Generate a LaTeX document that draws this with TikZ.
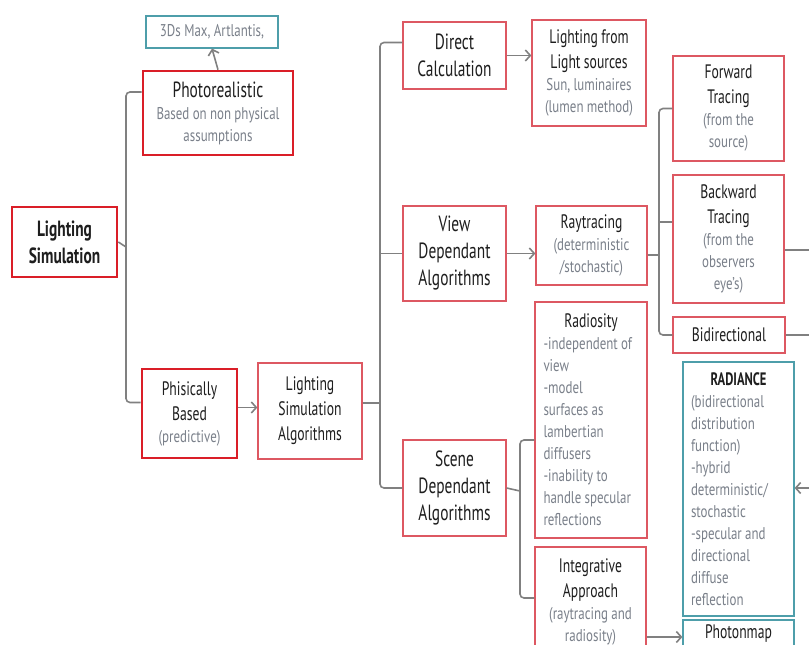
\documentclass[tikz,border=0pt]{standalone}
\usepackage{fontspec}
\setmainfont{PT Sans}[FakeStretch=0.7]
\newfontfamily\subfamily{PT Sans}[FakeStretch=0.76]
\usetikzlibrary{arrows.meta}
\definecolor{boxred}{RGB}{221,88,98}
\definecolor{mainred}{RGB}{218,30,40}
\definecolor{toolteal}{RGB}{78,158,170}
\definecolor{linegray}{RGB}{128,128,128}
\definecolor{subgray}{RGB}{122,128,138}
\definecolor{ttlgray}{RGB}{30,30,30}
\newcommand{\ttl}{\fontsize{22}{27}\selectfont\color{ttlgray}}
\newcommand{\ttls}{\fontsize{19.5}{25}\selectfont\color{ttlgray}}
\newcommand{\subt}{\subfamily\fontsize{17}{22}\selectfont\color{subgray}}
\tikzset{%
  box/.style={draw=boxred,line width=1.2pt,fill=white,inner sep=2pt,align=center},
  mainbox/.style={box,draw=mainred,line width=2.6pt},
  toolbox/.style={box,draw=toolteal},
  listbox/.style={align=left,inner xsep=8pt,text width=95},
  conn/.style={draw=linegray,line width=1.6pt},
  arr/.style={conn,-{Straight Barb[length=5pt,width=11pt]}},
  bracket/.style={conn,rounded corners=4pt},
}
\begin{document}
\begin{tikzpicture}[x=1pt,y=-1pt]
  \useasboundingbox (0,0) rectangle (809,645);
  \clip (0,0) rectangle (809,645);
  \node[toolbox,minimum width=132,minimum height=32] (tools) at (212,32) {\subt 3Ds Max, Artlantis,};
  \node[mainbox,minimum width=150,minimum height=84,text width=142] (photo) at (218,113)
    {{\ttl Photorealistic\par}{\subt Based on non physical\\assumptions\par}};
  \node[mainbox,minimum width=105,minimum height=70,text width=97] (sim) at (64.5,242)
    {\ttl\bfseries Lighting\\Simulation\par};
  \node[mainbox,minimum width=95,minimum height=89,text width=87] (phys) at (189.5,413.5)
    {{\ttls Phisically\\Based\par}{\subt (predictive)\par}};
  \node[box,minimum width=104,minimum height=96,text width=96] (algo) at (310,411)
    {\ttls Lighting\\Simulation\\Algorithms\par};
  \node[box,minimum width=103,minimum height=67,text width=95] (direct) at (454.5,55.5)
    {\ttl Direct\\Calculation\par};
  \node[box,minimum width=103,minimum height=95,text width=95] (view) at (454.5,253.5)
    {\ttl View\\Dependant\\Algorithms\par};
  \node[box,minimum width=103,minimum height=96,text width=95] (scene) at (454.5,488)
    {\ttl Scene\\Dependant\\Algorithms\par};
  \node[box,minimum width=114,minimum height=106,text width=106] (sources) at (589,73)
    {{\ttls Lighting from\\Light sources\par}{\subt Sun, luminaires\\(lumen method)\par}};
  \node[box,minimum width=111,minimum height=79,text width=103] (ray) at (591.5,245.5)
    {{\ttls Raytracing\par}{\subt (deterministic\\/stochastic)\par}};
  \node[box,listbox,minimum width=112,minimum height=236] (rad) at (591,420)
    {{\centering\ttls Radiosity\par}\subt -independent of\\view\\-model\\surfaces as\\lambertian\\diffusers\\-inability to\\handle specular\\reflections\par};
  \node[box,minimum width=111,minimum height=110,text width=103] (integ) at (590.5,602)
    {{\ttls Integrative\\Approach\par}{\subt (raytracing and\\radiosity)\par}};
  \node[box,minimum width=111,minimum height=105,text width=103] (fwd) at (728.5,108.5)
    {{\ttls Forward\\Tracing\par}{\subt (from the\\source)\par}};
  \node[box,minimum width=111,minimum height=128,text width=103] (bwd) at (728.5,239)
    {{\ttls Backward\\Tracing\par}{\subt (from the\\observers\\eye’s)\par}};
  \node[box,minimum width=112,minimum height=36,text width=104] (bidir) at (729,335)
    {\ttls Bidirectional\par};
  \node[toolbox,listbox,minimum width=111,minimum height=254] (radiance) at (738.5,489)
    {{\centering\fontsize{18}{22}\selectfont\bfseries\color{ttlgray}RADIANCE\par}\subt (bidirectional\\distribution\\function)\\-hybrid\\deterministic/\\stochastic\\-specular and\\directional\\diffuse\\reflection\par};
  \node[toolbox,minimum width=111,minimum height=28,text width=103] (photon) at (738.5,634)
    {\ttls Photonmap\par};
  \coordinate (j1) at (126,247);
  \coordinate (j2) at (380,403);
  \coordinate (j3) at (659,255);
  \coordinate (j4) at (520,491);
  \coordinate (bwdout) at (815,250);
  \coordinate (bidirout) at (815,335);
  \coordinate (radin) at (815,488);
  \draw[arr] (photo.north) -- (tools.south);
  \draw[bracket] ([yshift=21pt]photo.west) -| (j1) |- ([yshift=11pt]phys.west);
  \draw[conn] (sim.east) -- (j1);
  \draw[arr] ([yshift=6pt]phys.east) -- ([yshift=6pt]phys.east -| algo.west);
  \draw[bracket] ([yshift=13pt]direct.west) -| (j2) |- (scene.west);
  \draw[conn] ([yshift=8pt]algo.east) -- (j2);
  \draw[conn] (view.west) -- (view.west -| j2);
  \draw[arr] (direct.east) -- (direct.east -| sources.west);
  \draw[arr] (view.east) -- (view.east -| ray.west);
  \draw[bracket] (fwd.west) -| (j3) |- (bidir.west);
  \draw[conn] ([yshift=-9.5pt]ray.east) -- (j3);
  \draw[conn] ([yshift=17pt]bwd.west) -- ([yshift=17pt]bwd.west -| j3);
  \draw[bracket] ([yshift=-20pt]rad.west) -| (j4) |- ([yshift=4pt]integ.west);
  \draw[conn] (scene.east) -- (j4);
  \draw[arr] ([yshift=-35pt]integ.east) -- ([yshift=-35pt]integ.east -| photon.west);
  \draw[conn] ([yshift=-11pt]bwd.east) -- (bwdout);
  \draw[conn] (bidir.east) -- (bidirout);
  \draw[arr] (radin) -- (radin -| radiance.east);
\end{tikzpicture}
\end{document}
